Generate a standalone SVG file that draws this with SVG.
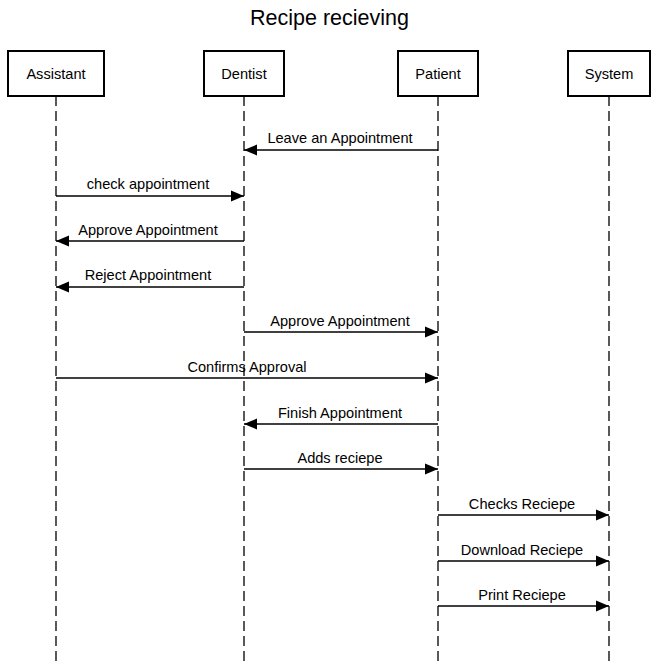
<svg xmlns="http://www.w3.org/2000/svg" width="659" height="664" viewBox="0 0 659 664">
<style>
.box{fill:#fff;stroke:#000;stroke-width:2}
.life{stroke:#000;stroke-width:1.3;stroke-dasharray:10 5;fill:none}
.msg{stroke:#000;stroke-width:1.3;fill:none;marker-end:url(#ah)}
text{font-family:"Liberation Sans",Arial,sans-serif;fill:#000}
.lbl{font-size:14.6px;text-anchor:middle}
.nm{font-size:14.6px;text-anchor:middle}
</style>
<defs>
<marker id="ah" markerWidth="14" markerHeight="12" refX="13" refY="6" orient="auto" markerUnits="userSpaceOnUse">
<path d="M0,0.5 L13,6 L0,11.5 Z" fill="#000"/>
</marker>
</defs>
<rect width="659" height="664" fill="#fff"/>
<text x="329.5" y="25" font-size="21.5" text-anchor="middle">Recipe recieving</text>
<g id="lifelines">
<line class="life" x1="56" y1="96" x2="56" y2="664"/>
<line class="life" x1="244" y1="96" x2="244" y2="664"/>
<line class="life" x1="438" y1="96" x2="438" y2="664"/>
<line class="life" x1="609" y1="96" x2="609" y2="664"/>
</g>
<g id="assistant"><rect class="box" x="8" y="51" width="96" height="45"/><text class="nm" x="56" y="79">Assistant</text></g>
<g id="dentist"><rect class="box" x="204" y="51" width="80" height="45"/><text class="nm" x="244" y="79">Dentist</text></g>
<g id="patient"><rect class="box" x="398" y="51" width="80" height="45"/><text class="nm" x="438" y="79">Patient</text></g>
<g id="system"><rect class="box" x="568" y="51" width="82" height="45"/><text class="nm" x="609" y="79">System</text></g>
<g id="connectors">
<line class="msg" x1="438" y1="150" x2="244" y2="150"/>
<text class="lbl" x="340" y="143">Leave an Appointment</text>
<line class="msg" x1="56" y1="196" x2="244" y2="196"/>
<text class="lbl" x="148" y="189">check appointment</text>
<line class="msg" x1="244" y1="241" x2="56" y2="241"/>
<text class="lbl" x="148" y="235">Approve Appointment</text>
<line class="msg" x1="244" y1="287" x2="56" y2="287"/>
<text class="lbl" x="148" y="280">Reject Appointment</text>
<line class="msg" x1="244" y1="332" x2="438" y2="332"/>
<text class="lbl" x="340" y="326">Approve Appointment</text>
<line class="msg" x1="56" y1="378" x2="438" y2="378"/>
<text class="lbl" x="247" y="372">Confirms Approval</text>
<line class="msg" x1="438" y1="424" x2="244" y2="424"/>
<text class="lbl" x="340" y="418">Finish Appointment</text>
<line class="msg" x1="244" y1="469" x2="438" y2="469"/>
<text class="lbl" x="340" y="463">Adds reciepe</text>
<line class="msg" x1="438" y1="515" x2="609" y2="515"/>
<text class="lbl" x="522" y="509">Checks Reciepe</text>
<line class="msg" x1="438" y1="561" x2="609" y2="561"/>
<text class="lbl" x="522" y="555">Download Reciepe</text>
<line class="msg" x1="438" y1="606" x2="609" y2="606"/>
<text class="lbl" x="522" y="600">Print Reciepe</text>
</g>
</svg>
